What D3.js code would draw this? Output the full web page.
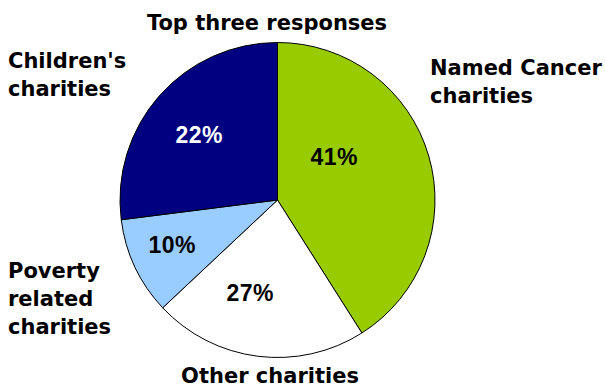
<!DOCTYPE html>
<html>
<head>
<meta charset="utf-8">
<script src="https://cdn.jsdelivr.net/npm/d3@7"></script>
<style>
  body { margin: 0; background: #fff; }
  text { font-family: "DejaVu Sans", Verdana, sans-serif; font-weight: bold; }
  .pct { font-family: "Liberation Sans", Arial, sans-serif; }
</style>
</head>
<body>
<div id="chart"></div>
<script>
// slices as drawn, clockwise from 12 o'clock
const categories = ["Named Cancer charities", "Other charities", "Poverty related charities", "Children's charities"];
const sliceValues = [41, 22, 10, 27];
// percentages as printed on the slices
const pctLabels = ["41%", "27%", "10%", "22%"];
const colors = ["#99cc00", "#ffffff", "#99ccff", "#000080"];
const pctColors = ["#000", "#000", "#000", "#fff"];
const title = "Top three responses";

const width = 605, height = 387;
const cx = 277.5, cy = 200, radius = 157.5;

const svg = d3.select("#chart")
  .append("svg")
  .attr("width", width)
  .attr("height", height);

const pie = d3.pie().sort(null).value(d => d);
const arcs = pie(sliceValues);

const arc = d3.arc().innerRadius(0).outerRadius(radius);
const labelArc = d3.arc().innerRadius(radius * 0.62).outerRadius(radius * 0.62);

const g = svg.append("g")
  .attr("transform", `translate(${cx}, ${cy})`);

g.selectAll("path")
  .data(arcs)
  .join("path")
  .attr("d", arc)
  .attr("fill", (d, i) => colors[i])
  .attr("stroke", "#000")
  .attr("stroke-width", 1)
  .attr("stroke-linejoin", "round");

// hand placed like the original, nudged from the centroids
const nudge = [[-37, -16], [-15, -4], [-17, 3], [-5, 0]];
g.selectAll("text.pct")
  .data(arcs)
  .join("text")
  .attr("class", "pct")
  .attr("x", (d, i) => labelArc.centroid(d)[0] + nudge[i][0])
  .attr("y", (d, i) => labelArc.centroid(d)[1] + nudge[i][1])
  .attr("text-anchor", "middle")
  .attr("dominant-baseline", "central")
  .attr("font-size", 23)
  .attr("letter-spacing", 0.5)
  .attr("fill", (d, i) => pctColors[i])
  .text((d, i) => pctLabels[i]);

svg.append("text")
  .attr("x", 267)
  .attr("y", 30)
  .attr("text-anchor", "middle")
  .attr("font-size", 21)
  .text(title);

// category labels, broken into lines as in the original
const catLines = [
  {lines: ["Named Cancer", "charities"], x: 430, y: 75, anchor: "start"},
  {lines: ["Other charities"], x: 270, y: 383, anchor: "middle"},
  {lines: ["Poverty", "related", "charities"], x: 8, y: 278, anchor: "start"},
  {lines: ["Children's", "charities"], x: 8, y: 68, anchor: "start"}
];

catLines.forEach(c => {
  const t = svg.append("text")
    .attr("x", c.x)
    .attr("y", c.y)
    .attr("text-anchor", c.anchor)
    .attr("font-size", 21);
  c.lines.forEach((line, j) => {
    t.append("tspan")
      .attr("x", c.x)
      .attr("dy", j === 0 ? 0 : 28)
      .text(line);
  });
});
</script>
</body>
</html>
